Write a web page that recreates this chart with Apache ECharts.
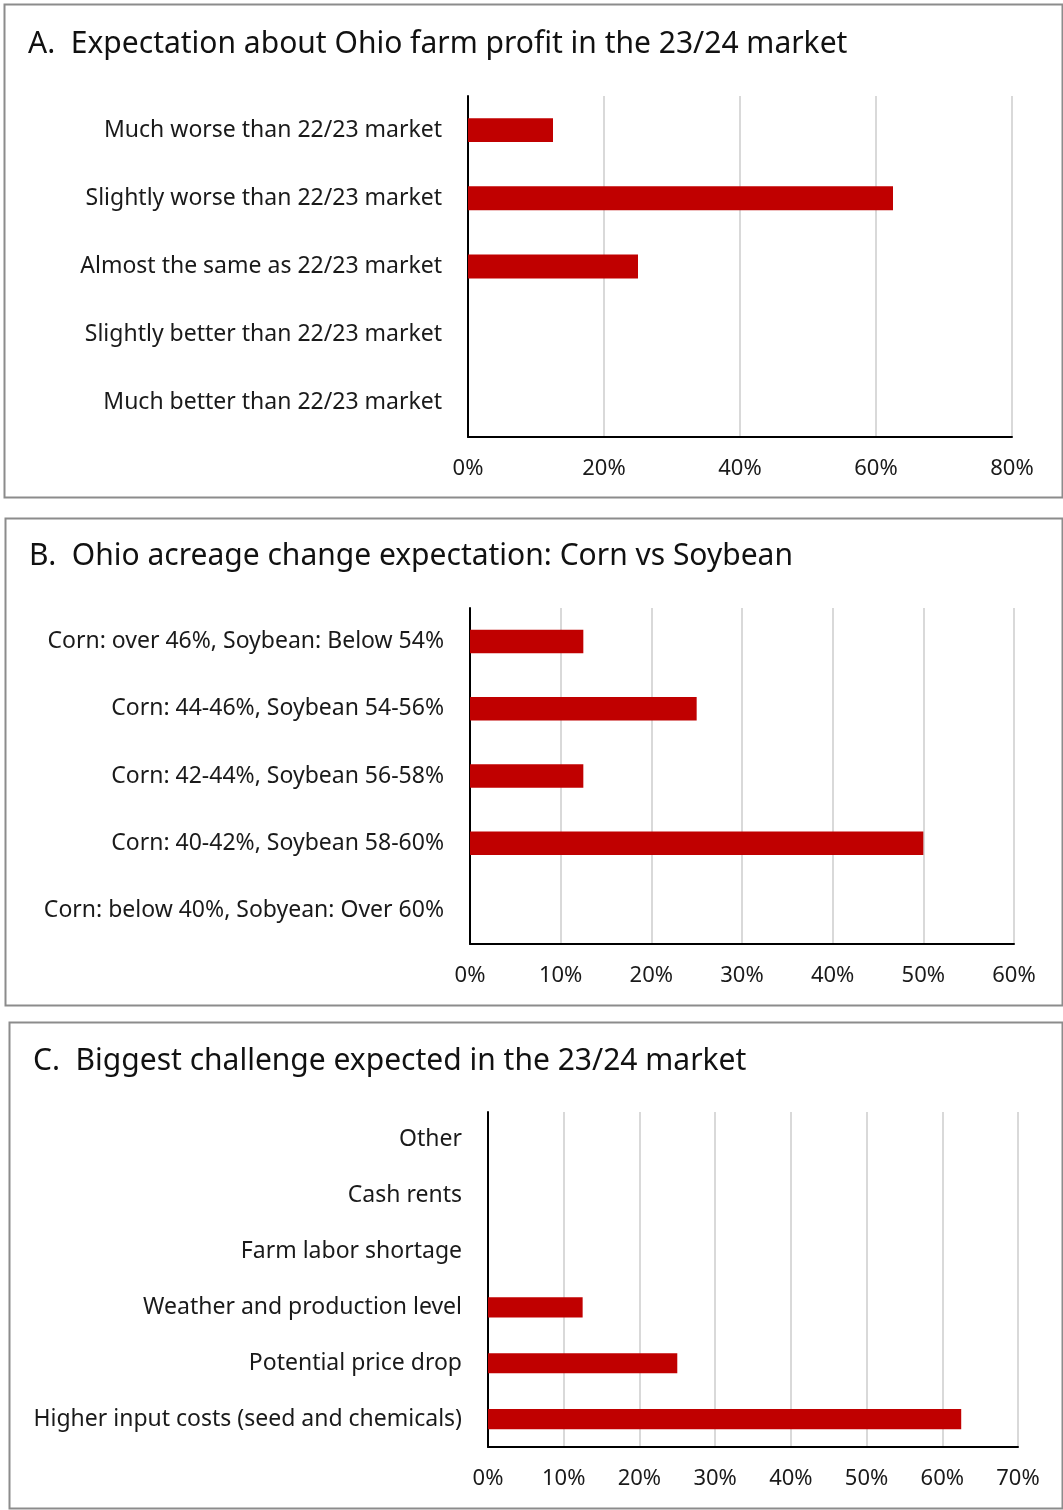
<!DOCTYPE html>
<html><head><meta charset="utf-8">
<script src="https://cdn.jsdelivr.net/npm/echarts@6/dist/echarts.min.js"></script>
<style>html,body{margin:0;padding:0;background:#fff}#c{width:1063px;height:1510px}</style>
</head><body><div id="c"></div>
<script>
const titleA = "A.  Expectation about Ohio farm profit in the 23/24 market";
const catsA = ["Much worse than 22/23 market","Slightly worse than 22/23 market","Almost the same as 22/23 market","Slightly better than 22/23 market","Much better than 22/23 market"];
const valsA = [12.5, 62.5, 25, 0, 0];

const titleB = "B.  Ohio acreage change expectation: Corn vs Soybean";
const catsB = ["Corn: over 46%, Soybean: Below 54%","Corn: 44-46%, Soybean 54-56%","Corn: 42-44%, Soybean 56-58%","Corn: 40-42%, Soybean 58-60%","Corn: below 40%, Sobyean: Over 60%"];
const valsB = [12.5, 25, 12.5, 50, 0];

const titleC = "C.  Biggest challenge expected in the 23/24 market";
const catsC = ["Other","Cash rents","Farm labor shortage","Weather and production level","Potential price drop","Higher input costs (seed and chemicals)"];
const valsC = [0, 0, 0, 12.5, 25, 62.5];

const FONT = "'Noto Sans', sans-serif";
const W = 1063;
const panels = [
  {title: titleA, cats: catsA, vals: valsA, max: 80, interval: 20, box:[4,4,1058,493], titleY:45, grid:{left:468, right:W-1012, top:96, height:341}, barW:'35%'},
  {title: titleB, cats: catsB, vals: valsB, max: 60, interval: 10, box:[5,518,1057,487], titleY:557, grid:{left:470, right:W-1014, top:608, height:336}, barW:'35%'},
  {title: titleC, cats: catsC, vals: valsC, max: 70, interval: 10, box:[9,1022,1053,486], titleY:1062, grid:{left:488, right:W-1018, top:1112, height:335}, barW:'36%'}
];

const chart = echarts.init(document.getElementById('c'), null, {renderer:'canvas'});
const option = {
  animation:false,
  backgroundColor:'#fff',
  grid: panels.map(p => p.grid),
  xAxis: panels.map((p,i) => ({
    type:'value', gridIndex:i, min:0, max:p.max, interval:p.interval,
    axisLine:{show:true, lineStyle:{color:'#000', width:2}},
    axisTick:{show:false},
    splitLine:{show:true, lineStyle:{color:'#d9d9d9', width:2}},
    axisLabel:{formatter: v => v + '%', color:'#1a1a1a', fontSize:22, fontFamily:FONT, margin:21}
  })),
  yAxis: panels.map((p,i) => ({
    type:'category', gridIndex:i, data:p.cats, inverse:true,
    axisLine:{show:true, lineStyle:{color:'#000', width:2}},
    axisTick:{show:false},
    axisLabel:{color:'#1a1a1a', fontSize:23, fontFamily:FONT, margin:26}
  })),
  series: panels.map((p,i) => ({
    type:'bar', xAxisIndex:i, yAxisIndex:i, data:p.vals, barWidth:p.barW,
    itemStyle:{color:'#C00000'}
  })),
  graphic: panels.flatMap(p => [
    {type:'rect', shape:{x:p.box[0]+0.5, y:p.box[1]+0.5, width:p.box[2], height:p.box[3]}, style:{fill:null, stroke:'#8c8c8c', lineWidth:2}, z:-1},
    {type:'text', left:p.box[0]+24, top:p.titleY-16, style:{text:p.title, fill:'#111', font:'30px ' + FONT}}
  ])
};
chart.setOption(option);
</script></body></html>
